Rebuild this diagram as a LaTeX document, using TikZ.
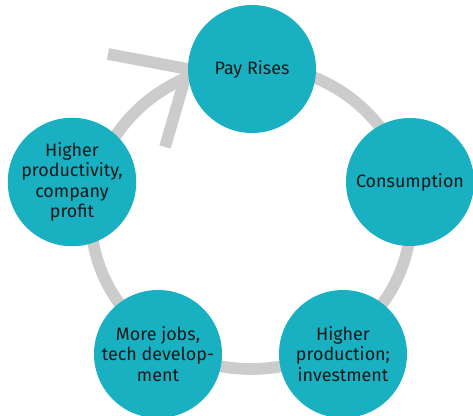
\documentclass[tikz,border=0pt]{standalone}
\usepackage{fontspec}
\setmainfont{Fira Sans}
\usetikzlibrary{calc, backgrounds}

\definecolor{cycteal}{HTML}{19B0C1}
\definecolor{cycgrey}{HTML}{CCCCCC}

\begin{document}
\begin{tikzpicture}[x=0.03cm, y=-0.03cm]
\tikzset{StepCircle/.style = {circle, fill= cycteal, minimum size= 3.84cm, inner sep= 0pt,
    align= center, text= black!90, font= \fontsize{15.3}{17.5}\selectfont},
  RingLine/.style = {draw= cycgrey, line width= 10pt}
}

    \useasboundingbox (0,0) rectangle (473,415);

   % Draw the five steps
   \node[StepCircle] (pay)  at (252,69)  {Pay Rises};
   \node[StepCircle] (cons) at (410,182) {Consumption};
   \node[StepCircle] (prod) at (343,354) {Higher\\production;\\investment};
   \node[StepCircle] (jobs) at (158,354) {More jobs,\\tech develop-\\ment};
   \node[StepCircle] (prof) at (72,182)  {Higher\\productivity,\\company\\profit};

   \begin{scope}[on background layer]
    % Draw ring behind the circles
    \draw[RingLine] (251,217) ellipse [x radius= 4.8cm, y radius= 4.56cm];

    % Draw arrow head into pay rises
    \coordinate (armtop) at (108,54);
    \coordinate (armbot) at (165,147);
    \draw[RingLine, line join= miter] (armtop) -- (pay.west) -- (armbot);
   \end{scope}
\end{tikzpicture}
\end{document}
